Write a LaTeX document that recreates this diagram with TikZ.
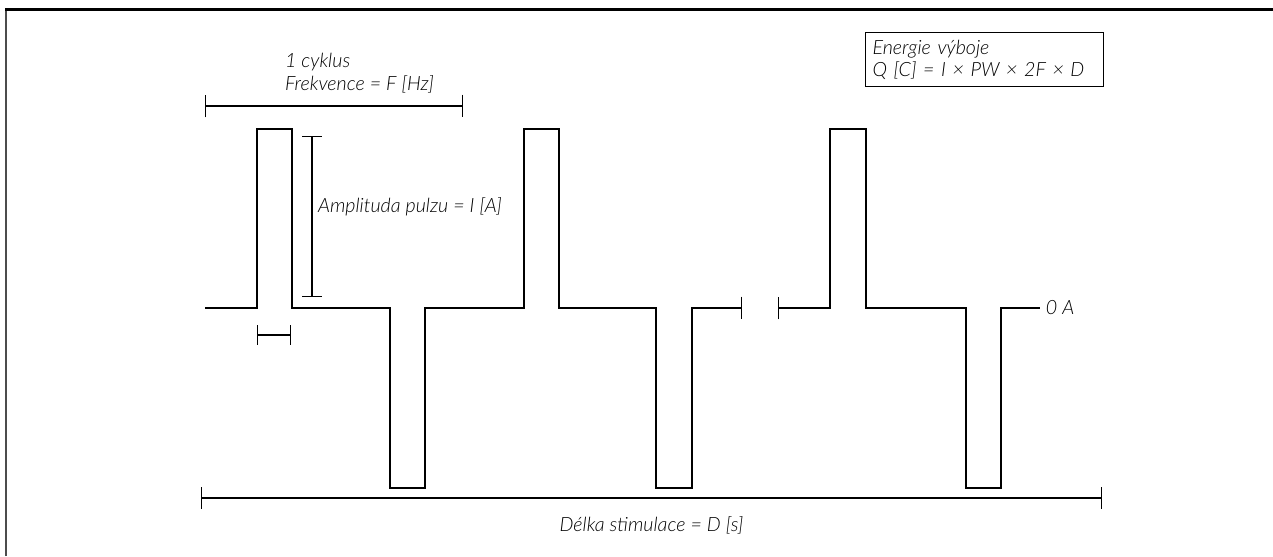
\documentclass[tikz,border=0pt]{standalone}
\usepackage{fontspec}
\setmainfont{Lato}[UprightFont={* Light}, ItalicFont={* Light Italic}]
\usepackage{xcolor}
\usetikzlibrary{calc, arrows.meta}
\tikzset{
  wave/.style={line width=0.75pt},
  dim/.style={line width=0.7pt},
  lbl/.style={text=black, inner sep=1pt}
}

\begin{document}
\begin{tikzpicture}[x=0.02cm, y=-0.02cm, font=\fontsize{11.2}{13.5}\selectfont\itshape]
\useasboundingbox (0,0) rectangle (1273,556);
% frame
\draw[black!70, line width=1.2pt] (6,556) -- (6,9.5);
\draw[line width=1.2pt] (5.4,9.5) -- (1273,9.5);
% pulses
\draw[wave] (205,308) -| (257,129) -| (292,308) -| (390,488) -| (425,308)
  -| (524,129) -| (559,308) -| (656,488) -| (692,308)
  [-{Bar[width=13pt]}] -- (742,308) coordinate (gapl);
\draw[wave, {Bar[width=13pt]}-] (778,308) coordinate (gapr) -| (830,129) -| (866,308)
  -| (966,488) -| (1001,308) -- (1040,308) node[lbl, right, xshift=2pt]{0 A};
% dimensions
\coordinate (c1) at (205,106);
\coordinate (c2) at (463,106);
\draw[dim, {Bar[width=13pt]}-{Bar[width=13pt]}] (c1) -- (c2);
\node[lbl, anchor=west, align=left] (cyklus) at (283,73) {1 cyklus\\Frekvence = F [Hz]};
\coordinate (a1) at (312,136);
\coordinate (a2) at (312,297);
\draw[dim, {Bar[width=11pt]}-{Bar[width=11pt]}] (a1) -- (a2);
\node[lbl, anchor=west] (ampl) at (316,207) {Amplituda pulzu = I [A]};
\coordinate (p1) at (257,335);
\coordinate (p2) at (291,335);
\draw[dim, {Bar[width=11pt]}-{Bar[width=11pt]}] (p1) -- (p2);
\coordinate (d1) at (201,498);
\coordinate (d2) at (1102,498);
\draw[dim, {Bar[width=12.5pt]}-{Bar[width=12.5pt]}] (d1) -- (d2)
  node[lbl, midway, below=9pt] (delka) {Délka stimulace = D [s]};
% energy box
\node[draw, line width=0.6pt, anchor=north west, minimum width=4.76cm, minimum height=1.08cm,
  text width=4.76cm-8pt, align=left, inner xsep=3pt, inner ysep=3.5pt, text=black,
  font=\fontsize{11.2}{12.4}\selectfont\itshape]
  (energie) at (865,32) {Energie výboje\\Q [C] = I × PW × 2F × D};
\end{tikzpicture}
\end{document}
